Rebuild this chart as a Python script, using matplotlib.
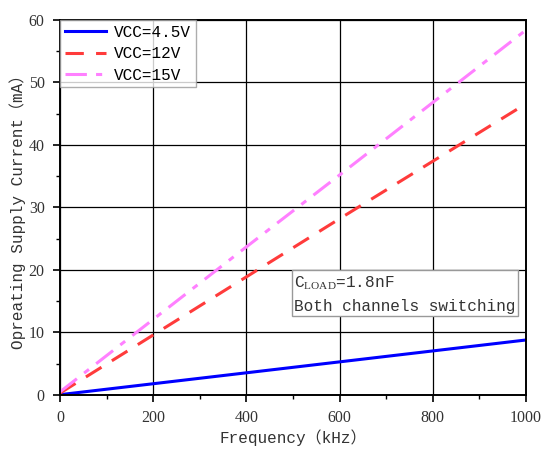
import numpy as np
import matplotlib
matplotlib.use("Agg")
import matplotlib.pyplot as plt
from matplotlib.ticker import MultipleLocator

# values
freq_khz = [0, 200, 400, 600, 800, 1000]
i_vcc_4v5 = [0.05, 1.8, 3.55, 5.3, 7.05, 8.8]
i_vcc_12 = [0.3, 9.6, 18.9, 28.2, 37.4, 46.6]
i_vcc_15 = [0.5, 12.1, 23.7, 35.2, 46.8, 58.4]
series_labels = ["VCC=4.5V", "VCC=12V", "VCC=15V"]

mono = ["Liberation Mono", "Noto Sans CJK SC", "DejaVu Sans"]
plt.rcParams["font.family"] = mono
plt.rcParams["mathtext.fontset"] = "custom"
plt.rcParams["mathtext.rm"] = "Liberation Serif"

fig = plt.figure(figsize=(5.43, 4.51), dpi=100)
ax = fig.add_axes([0.1105, 0.1242, 0.8582, 0.8315])

ax.plot(freq_khz, i_vcc_4v5, color="#0000ff", lw=2.2, ls="-", label=series_labels[0])
ax.plot(freq_khz, i_vcc_12, color="#ff3b3b", lw=2.2, ls=(0, (6, 4)), label=series_labels[1])
ax.plot(freq_khz, i_vcc_15, color="#ff80ff", lw=2.2, ls=(0, (7, 3, 2, 3)), label=series_labels[2])

ax.set_xlim(0, 1000)
ax.set_ylim(0, 60)
ax.xaxis.set_major_locator(MultipleLocator(200))
ax.xaxis.set_minor_locator(MultipleLocator(100))
ax.yaxis.set_major_locator(MultipleLocator(10))
ax.yaxis.set_minor_locator(MultipleLocator(5))
ax.grid(True, which="major", color="black", lw=0.9)
ax.set_axisbelow(True)

for sp in ax.spines.values():
    sp.set_linewidth(1.4)
ax.tick_params(which="major", direction="out", length=5, width=1.2, labelsize=11.5, pad=6)
ax.tick_params(which="minor", direction="out", length=3, width=1.0)
for lbl in ax.get_xticklabels() + ax.get_yticklabels():
    lbl.set_family("Liberation Serif")
    lbl.set_color("#333333")

ax.set_xlabel("Frequency（kHz）", fontsize=11.5, color="#333333", labelpad=2)
ax.set_ylabel("Opreating Supply Current（mA）", fontsize=11.5, color="#333333", labelpad=2)

leg = ax.legend(loc="upper left", fontsize=11.5, frameon=True, fancybox=False,
                borderaxespad=0, borderpad=0.3, handlelength=2.6, handletextpad=0.5,
                labelspacing=0.4)
leg.get_frame().set_edgecolor("#999999")
leg.get_frame().set_linewidth(1.0)

ax.text(0.503, 0.322, "C$_{\\mathrm{LOAD}}$=1.8nF\nBoth channels switching",
        transform=ax.transAxes, fontsize=11.6, color="#333333", va="top", ha="left",
        linespacing=1.55,
        bbox=dict(boxstyle="square,pad=0.15", fc="white", ec="#999999", lw=1.0))

fig.savefig("out.png", dpi=100)
